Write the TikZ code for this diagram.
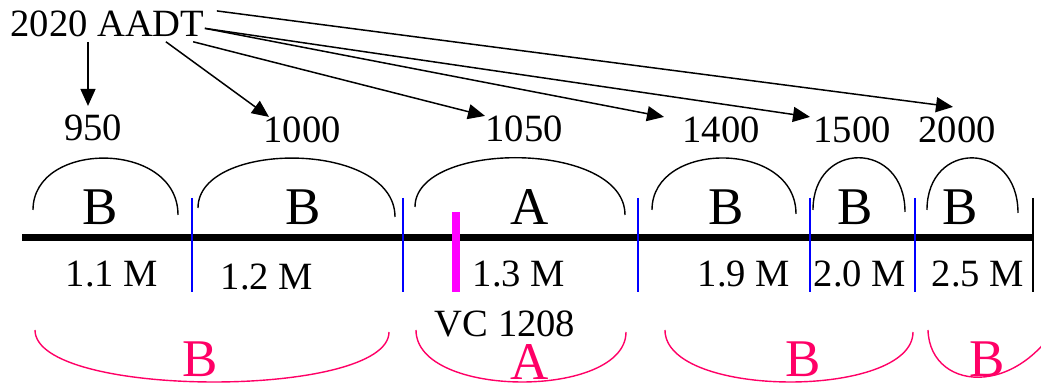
\documentclass[tikz,border=0pt]{standalone}
\usepackage{fontspec}
\setmainfont{Liberation Serif}
\usetikzlibrary{arrows.meta,calc}
\definecolor{segpink}{RGB}{255,0,102}
\definecolor{vcmag}{RGB}{255,0,255}
\begin{document}
\begin{tikzpicture}[
			x=0.5pt, y=-0.5pt,
			>={Triangle[length=8.5pt,width=7.5pt]},
			every node/.style={inner sep=0pt, anchor=base},
			txt/.style={font=\fontsize{19.3}{23}\selectfont},
			lvl/.style={font=\fontsize{26.5}{30}\selectfont},
			hump/.style={draw=black, line width=0.7pt},
			bowl/.style={draw=segpink, line width=0.7pt},
			sep/.style={draw=blue, line width=0.8pt},
			flow/.style={->, line width=0.75pt}
		]
			\useasboundingbox (0,0) rectangle (1041,383);
			\clip (0,0) rectangle (1041,383);

			\node[txt, anchor=base west] (aadt) at (10,37) {2020 AADT};
			\node[txt] (n950) at (93,141) {950};
			\node[txt] (n1000) at (302,143) {1000};
			\node[txt] (n1050) at (524,142) {1050};
			\node[txt] (n1400) at (721,143) {1400};
			\node[txt] (n1500) at (852,143) {1500};
			\node[txt] (n2000) at (957,143) {2000};

			\draw[flow] ([xshift=-2.5pt,yshift=-2pt]n950.north |- aadt.south) -- ([xshift=-2.5pt,yshift=4.5pt]n950.north);
			\draw[flow] ($(aadt.south west)!0.8!(aadt.south east)+(0,4)$) -- ([xshift=3pt]n1000.north west);
			\draw[flow] ($(aadt.south west)!0.94!(aadt.south east)+(0,4)$) -- (n1050.north west);
			\draw[flow] ($(aadt.east)+(0,4)$) -- ([xshift=-9pt]n1400.north west);
			\draw[flow] ($(aadt.east)+(0,4)$) -- ([xshift=-1.5pt]n1500.north west);
			\draw[flow] ([xshift=6pt]aadt.north east) -- ([xshift=-2pt,yshift=5pt]n2000.north);

			\draw[line width=3.5pt] (22,238) -- (1033,238);
			\draw[line width=0.8pt] (1033,198) -- (1033,292);
			\foreach \x in {192,403,638,810,915}
				\draw[sep] (\x,198) -- (\x,292);
			\draw[vcmag, line width=4pt] (456,212) -- (456,292);

			\foreach \a/\ya/\b/\yb in {33/210/178/215, 198/208/395/217, 415/207/625/215, 652/210/796/214, 813/210/905/212, 927/210/1018/213}
				\draw[hump] (\a,\ya) .. controls (\a,140) and (\b,140) .. (\b,\yb);

			\node[lvl] (s1) at (100,225) {B};
			\node[lvl] (s2) at (303,225) {B};
			\node[lvl] (s3) at (530,225) {A};
			\node[lvl] (s4) at (726,225) {B};
			\node[lvl] (s5) at (855,225) {B};
			\node[lvl] (s6) at (960,225) {B};

			\node[txt] (m1) at (112,287) {1.1 M};
			\node[txt] (m2) at (267,290) {1.2 M};
			\node[txt] (m3) at (519,287) {1.3 M};
			\node[txt] (m4) at (744,287) {1.9 M};
			\node[txt] (m5) at (860,287) {2.0 M};
			\node[txt] (m6) at (978,287) {2.5 M};
			\node[txt] (vc) at (505,337) {VC 1208};

			\foreach \a/\b in {35/389, 416/626, 665/913}
				\draw[bowl] (\a,330) .. controls (\a,399) and (\b,399) .. (\b,332);
			\draw[bowl] (928,330) .. controls (930,395) and (1030,400) .. (1070,300);

			\node[lvl, text=segpink] (p1) at (200,377) {B};
			\node[lvl, text=segpink] (p2) at (530,380) {A};
			\node[lvl, text=segpink] (p3) at (803,377) {B};
			\node[lvl, text=segpink] (p4) at (987,377) {B};
		\end{tikzpicture}
\end{document}
